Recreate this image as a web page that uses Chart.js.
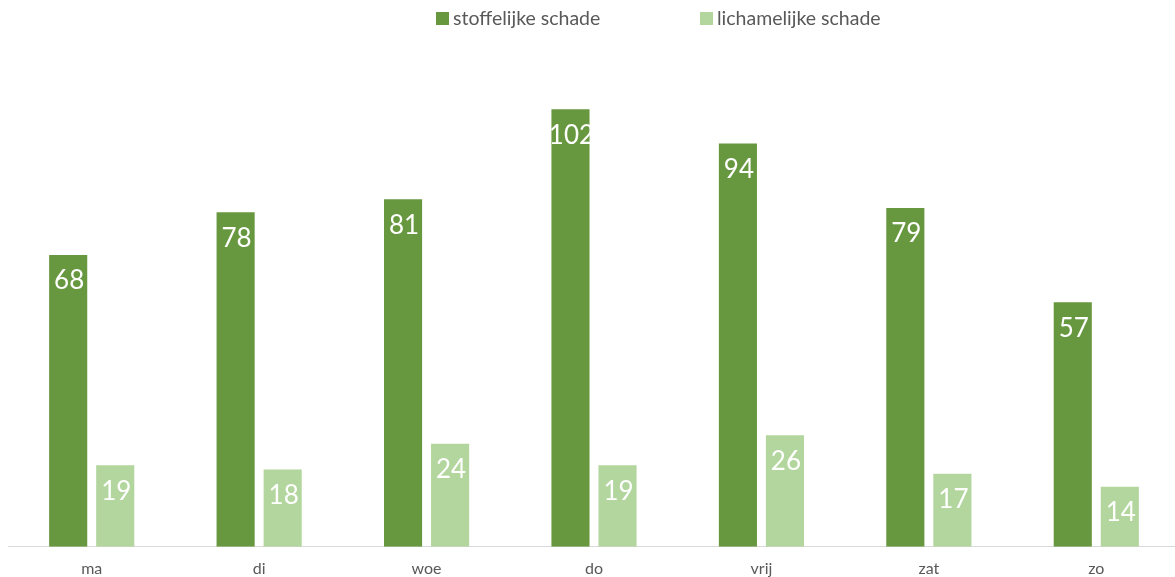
<!DOCTYPE html>
<html>
<head>
<meta charset="utf-8">
<script src="https://cdn.jsdelivr.net/npm/chart.js@4"></script>
<style>
  html, body { margin: 0; padding: 0; background: #fff; overflow: hidden; }
  #wrap { position: relative; width: 1180px; height: 591px; }
</style>
</head>
<body>
<div id="wrap"><canvas id="schadeChart"></canvas></div>
<script>
const dagen = ["ma", "di", "woe", "do", "vrij", "zat", "zo"];
const stoffelijk = [68, 78, 81, 102, 94, 79, 57];
const lichamelijk = [19, 18, 24, 19, 26, 17, 14];
const seriesNames = ["stoffelijke schade", "lichamelijke schade"];
const colors = ["#67983F", "#B2D69D"];

const FONT = "Lato, 'Open Sans', sans-serif";

// white value labels inside the top of each bar
const valueLabels = {
  id: "valueLabels",
  afterDatasetsDraw(chart) {
    const ctx = chart.ctx;
    ctx.save();
    ctx.fillStyle = "#fff";
    ctx.font = "26px " + FONT;
    ctx.textAlign = "center";
    ctx.textBaseline = "middle";
    chart.data.datasets.forEach((ds, i) => {
      chart.getDatasetMeta(i).data.forEach((bar, j) => {
        ctx.fillText(ds.data[j], bar.x + 1, bar.y + 26);
      });
    });
    ctx.restore();
  }
};

// legend drawn by hand so spacing matches
const topLegend = {
  id: "topLegend",
  afterDraw(chart) {
    const ctx = chart.ctx;
    const starts = [436, 700];
    ctx.save();
    ctx.font = "19.5px " + FONT;
    ctx.textBaseline = "middle";
    chart.data.datasets.forEach((ds, i) => {
      const x = starts[i];
      ctx.fillStyle = ds.backgroundColor;
      ctx.fillRect(x, 12, 13, 13);
      ctx.fillStyle = "#595959";
      ctx.fillText(ds.label, x + 17, 19);
    });
    ctx.restore();
  }
};

new Chart(document.getElementById("schadeChart"), {
  type: "bar",
  data: {
    labels: dagen,
    datasets: [
      { label: seriesNames[0], data: stoffelijk, backgroundColor: colors[0] },
      { label: seriesNames[1], data: lichamelijk, backgroundColor: colors[1] }
    ]
  },
  options: {
    responsive: true,
    maintainAspectRatio: false,
    animation: false,
    layout: { padding: { top: 32, left: 8, right: 0, bottom: 1 } },
    datasets: {
      bar: { categoryPercentage: 0.562, barPercentage: 0.81 }
    },
    plugins: {
      legend: { display: false },
      tooltip: { enabled: false }
    },
    scales: {
      x: {
        grid: { display: false, drawTicks: false },
        border: { display: true, color: "#D9D9D9", width: 1 },
        ticks: { color: "#595959", font: { family: FONT, size: 16 }, padding: 12 }
      },
      y: {
        display: false,
        min: 0,
        max: 120
      }
    }
  },
  plugins: [valueLabels, topLegend]
});
</script>
</body>
</html>
